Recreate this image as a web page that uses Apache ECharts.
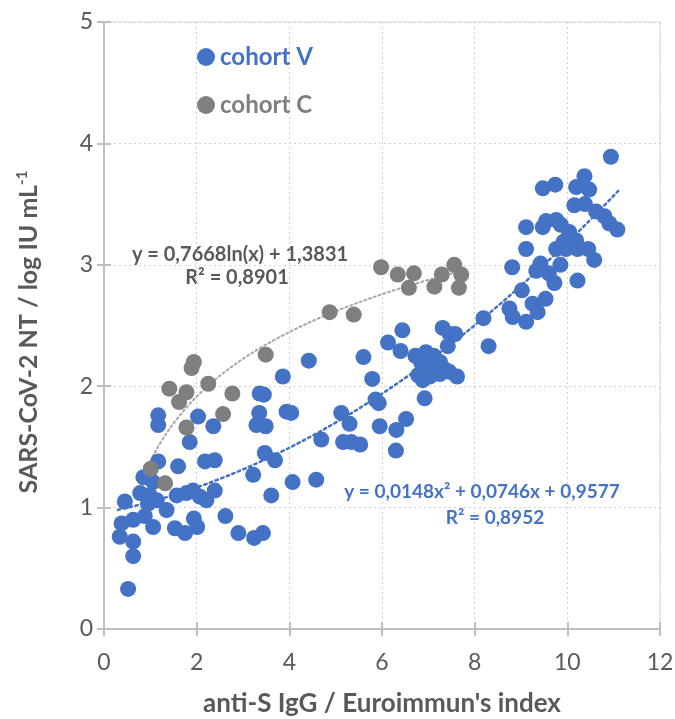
<!DOCTYPE html>
<html>
<head>
<meta charset="utf-8">
<script src="https://cdn.jsdelivr.net/npm/echarts@6/dist/echarts.min.js"></script>
<style>
  html, body { margin: 0; padding: 0; background: #fff; }
  #chart { width: 675px; height: 719px; }
</style>
</head>
<body>
<div id="chart"></div>
<script>
// cohort V (blue) points: [anti-S IgG index, log IU/mL]
var cohortV = [
  [0.38, 0.87], [0.63, 0.90], [0.88, 0.93], [1.06, 0.84], [0.34, 0.76], [0.63, 0.72],
  [0.63, 0.60], [0.52, 0.33], [0.45, 1.05], [0.78, 1.12], [0.99, 1.10], [1.14, 1.06],
  [0.95, 1.03], [0.85, 1.25], [1.06, 1.21], [1.35, 0.98], [1.57, 1.10], [1.78, 1.12],
  [1.92, 1.14], [2.07, 1.09], [2.21, 1.06], [2.39, 1.14], [1.53, 0.83], [1.75, 0.79],
  [1.94, 0.91], [2.01, 0.84], [2.62, 0.93], [2.90, 0.79], [3.24, 0.75], [3.43, 0.79],
  [1.17, 1.38], [1.60, 1.34], [2.18, 1.38], [2.39, 1.39], [1.17, 1.76], [1.17, 1.68],
  [2.03, 1.75], [2.36, 1.67], [1.85, 1.54], [3.35, 1.78], [3.29, 1.68], [3.49, 1.67],
  [3.94, 1.79], [4.04, 1.78], [3.47, 1.45], [3.69, 1.39], [3.22, 1.27], [3.61, 1.10],
  [4.07, 1.21], [4.58, 1.23], [3.36, 1.94], [3.45, 1.93], [3.86, 2.08], [4.42, 2.21],
  [5.60, 2.24], [5.79, 2.06], [5.86, 1.89], [5.93, 1.86], [6.92, 1.90], [5.12, 1.78],
  [5.30, 1.69], [4.69, 1.56], [5.16, 1.54], [5.34, 1.54], [5.53, 1.52], [5.95, 1.67],
  [6.31, 1.64], [6.52, 1.73], [6.30, 1.47], [6.44, 2.46], [6.13, 2.36], [6.40, 2.29],
  [6.72, 2.25], [6.95, 2.28], [7.12, 2.25], [6.85, 2.19], [7.05, 2.19], [7.25, 2.20],
  [7.35, 2.14], [6.78, 2.09], [7.03, 2.08], [7.25, 2.10], [7.45, 2.12], [7.62, 2.08],
  [6.88, 2.05], [7.31, 2.48], [7.46, 2.43], [7.58, 2.43], [7.42, 2.33], [8.19, 2.56],
  [8.30, 2.33], [10.94, 3.89], [10.37, 3.73], [9.47, 3.63], [9.74, 3.66], [10.19, 3.64],
  [10.47, 3.62], [10.15, 3.49], [10.38, 3.50], [10.62, 3.44], [10.80, 3.40], [10.91, 3.34],
  [11.08, 3.29], [9.11, 3.31], [9.54, 3.36], [9.76, 3.37], [9.86, 3.33], [9.47, 3.31],
  [10.04, 3.27], [10.19, 3.20], [9.92, 3.19], [9.76, 3.13], [9.97, 3.13], [10.22, 3.13],
  [10.45, 3.13], [10.58, 3.04], [9.11, 3.13], [9.42, 3.01], [9.33, 2.95], [9.60, 2.93],
  [9.72, 2.85], [9.85, 3.00], [10.22, 2.87], [8.81, 2.98], [9.02, 2.79], [9.25, 2.68],
  [9.53, 2.72], [9.36, 2.61], [8.75, 2.64], [8.82, 2.57], [9.11, 2.53]
];

// cohort C (grey) points
var cohortC = [
  [1.01, 1.32], [1.32, 1.20], [1.41, 1.98], [1.62, 1.87], [1.78, 1.95], [1.78, 1.66],
  [1.89, 2.15], [1.94, 2.20], [2.25, 2.02], [2.57, 1.77], [2.77, 1.94], [3.49, 2.26],
  [4.87, 2.61], [5.39, 2.59], [5.98, 2.98], [6.34, 2.92], [6.58, 2.81], [6.69, 2.93],
  [7.13, 2.82], [7.29, 2.92], [7.56, 3.00], [7.66, 2.81], [7.71, 2.92]
];

// trendline coefficients as printed on the chart
var polyCoef = [0.0148, 0.0746, 0.9577]; // a x^2 + b x + c
var logCoef = [0.7668, 1.3831];          // a ln(x) + b
var polyRange = [0.3, 11.1];
var logRange = [0.95, 7.71];

var xTicks = [0, 2, 4, 6, 8, 10, 12];
var yTicks = [0, 1, 2, 3, 4, 5];

function curve(range, f) {
  var pts = [];
  var n = 120;
  for (var i = 0; i <= n; i++) {
    var x = range[0] + (range[1] - range[0]) * i / n;
    pts.push([x, f(x)]);
  }
  return pts;
}
var polyLine = curve(polyRange, function (x) { return polyCoef[0] * x * x + polyCoef[1] * x + polyCoef[2]; });
var logLine = curve(logRange, function (x) { return logCoef[0] * Math.log(x) + logCoef[1]; });

var BLUE = '#4472C4';
var GREY = '#7F7F7F';
var TXT = '#595959';
var FONT = 'Lato';

var chart = echarts.init(document.getElementById('chart'));

var axisLineStyle = { color: '#BFBFBF', width: 2 };

chart.setOption({
  animation: false,
  textStyle: { fontFamily: FONT },
  grid: {
    left: 104, right: 15, top: 22, bottom: 90,
    outerBoundsMode: 'none', containLabel: false,
    show: true, borderColor: '#D9D9D9', borderWidth: 1
  },
  legend: {
    orient: 'vertical',
    left: 192, top: 40,
    itemGap: 24,
    itemWidth: 18, itemHeight: 18,
    icon: 'circle',
    textStyle: { fontFamily: FONT, fontSize: 24, fontWeight: 'bold' },
    data: [
      { name: 'cohort V', textStyle: { color: BLUE } },
      { name: 'cohort C', textStyle: { color: GREY } }
    ]
  },
  xAxis: [{
    type: 'value', min: 0, max: 12, interval: 2,
    axisLine: { show: true, lineStyle: axisLineStyle },
    axisTick: { show: true, length: 7, lineStyle: axisLineStyle },
    axisLabel: { color: TXT, fontSize: 23, margin: 22, fontFamily: FONT,
      formatter: function (v) { return xTicks.indexOf(v) >= 0 ? String(v) : ''; } },
    splitLine: { show: true, lineStyle: { color: '#D0D0D0', type: [2, 3], width: 1 } },
    name: "anti-S IgG / Euroimmun's index",
    nameLocation: 'middle', nameGap: 62,
    nameTextStyle: { color: TXT, fontSize: 26, fontWeight: 'bold', fontFamily: FONT }
  }, {
    type: 'value', min: 0, max: 12, interval: 2, position: 'bottom',
    axisLine: { show: false },
    axisTick: { show: true, inside: true, length: 7, lineStyle: axisLineStyle },
    axisLabel: { show: false },
    splitLine: { show: false }
  }],
  yAxis: [{
    type: 'value', min: 0, max: 5, interval: 1,
    axisLine: { show: true, lineStyle: axisLineStyle },
    axisTick: { show: true, length: 7, lineStyle: axisLineStyle },
    axisLabel: { color: TXT, fontSize: 23, margin: 11, fontFamily: FONT,
      formatter: function (v) { return yTicks.indexOf(v) >= 0 ? String(v) : ''; } },
    splitLine: { show: true, lineStyle: { color: '#D0D0D0', type: [2, 3], width: 1 } }
  }, {
    type: 'value', min: 0, max: 5, interval: 1, position: 'left',
    axisLine: { show: false },
    axisTick: { show: true, inside: true, length: 7, lineStyle: axisLineStyle },
    axisLabel: { show: false },
    splitLine: { show: false }
  }],
  graphic: [
    {
      type: 'text', x: 29, y: 332, rotation: Math.PI / 2,
      style: {
        text: '{a|SARS-CoV-2 NT / log IU mL}{s|-1}',
        align: 'center', verticalAlign: 'middle',
        rich: {
          a: { fontFamily: FONT, fontSize: 25, fontWeight: 'bold', fill: TXT, color: TXT },
          s: { fontFamily: FONT, fontSize: 15, fontWeight: 'bold', fill: TXT, color: TXT, padding: [0, 0, 14, 0] }
        }
      }
    },
    {
      type: 'text', x: 240, y: 255,
      style: { text: 'y = 0,7668ln(x) + 1,3831', align: 'center', verticalAlign: 'middle',
        fontFamily: FONT, fontSize: 20, fontWeight: 'bold', fill: TXT }
    },
    {
      type: 'text', x: 237, y: 278,
      style: { text: 'R\u00b2 = 0,8901', align: 'center', verticalAlign: 'middle',
        fontFamily: FONT, fontSize: 20, fontWeight: 'bold', fill: TXT }
    },
    {
      type: 'text', x: 482, y: 492,
      style: { text: 'y = 0,0148x\u00b2 + 0,0746x + 0,9577', align: 'center', verticalAlign: 'middle',
        fontFamily: FONT, fontSize: 19, fontWeight: 'bold', fill: BLUE }
    },
    {
      type: 'text', x: 495, y: 518,
      style: { text: 'R\u00b2 = 0,8952', align: 'center', verticalAlign: 'middle',
        fontFamily: FONT, fontSize: 19, fontWeight: 'bold', fill: BLUE }
    }
  ],
  series: [
    {
      name: 'poly trend', type: 'line', data: polyLine, showSymbol: false, silent: true,
      lineStyle: { color: BLUE, width: 2.5, type: [2.5, 3.5], cap: 'round' }, z: 1
    },
    {
      name: 'log trend', type: 'line', data: logLine, showSymbol: false, silent: true,
      lineStyle: { color: '#A6A6A6', width: 2, type: [2, 3], cap: 'round' }, z: 1
    },
    {
      name: 'cohort V', type: 'scatter', data: cohortV, symbolSize: 16,
      itemStyle: { color: BLUE, opacity: 1 }, z: 2
    },
    {
      name: 'cohort C', type: 'scatter', data: cohortC, symbolSize: 16,
      itemStyle: { color: GREY, opacity: 1 }, z: 3
    }
  ]
});
</script>
</body>
</html>
